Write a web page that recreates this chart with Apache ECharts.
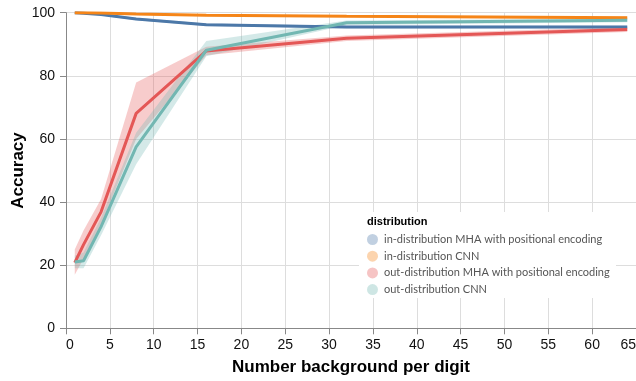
<!DOCTYPE html>
<html><head><meta charset="utf-8">
<script src="https://cdn.jsdelivr.net/npm/echarts@6/dist/echarts.min.js"></script>
<style>html,body{margin:0;padding:0;background:#fff}#c{width:636px;height:381px}</style>
</head><body><div id="c"></div>
<script>
var xs = [1, 2, 4, 8, 16, 32, 64];
var seriesNames = ['in-distribution MHA with positional encoding','in-distribution CNN','out-distribution MHA with positional encoding','out-distribution CNN'];
var inMHA = [100, 99.8, 99.4, 98.0, 96.2, 95.5, 95.5];
var inMHALo = [99.8, 99.6, 99.1, 97.6, 95.8, 95.1, 95.1];
var inMHAHi = [100, 100, 99.7, 98.4, 96.6, 95.9, 95.9];
var inCNN = [100, 100, 99.9, 99.6, 99.2, 98.9, 98.4];
var inCNNLo = [99.8, 99.8, 99.7, 99.3, 98.9, 98.6, 98.0];
var inCNNHi = [100, 100, 100, 99.9, 99.5, 99.2, 98.8];
var outMHA = [20.8, 26.5, 36.9, 68.1, 87.9, 91.9, 94.7];
var outMHALo = [17, 22, 33, 60, 86.5, 91.0, 93.9];
var outMHAHi = [25, 31, 41, 77.9, 89.2, 92.8, 95.5];
var outCNN = [21.0, 21.4, 32.2, 57.5, 88.1, 96.8, 97.6];
var outCNNLo = [19, 19, 29.5, 52, 86.2, 96.1, 97.0];
var outCNNHi = [23, 24, 35, 62, 91, 97.5, 98.2];
var colors = ['#4c78a8', '#f58518', '#e45756', '#72b7b2'];

function pairs(v){ return xs.map(function(x,i){ return [x, v[i]]; }); }
function band(lo, hi, color){
  return {
    type: 'custom', silent: true, z: 1,
    data: [0],
    renderItem: function(params, api){
      var pts = [];
      for (var i=0;i<xs.length;i++) pts.push(api.coord([xs[i], hi[i]]));
      for (var j=xs.length-1;j>=0;j--) pts.push(api.coord([xs[j], lo[j]]));
      return { type:'polygon', shape:{points:pts}, style:{fill:color, opacity:0.3} };
    }
  };
}
function line(name, v, color){
  return { name:name, type:'line', data:pairs(v), symbol:'none', z:3,
    lineStyle:{color:color, width:3}, itemStyle:{color:color} };
}
var chart = echarts.init(document.getElementById('c'));
var font = '"Liberation Sans", Arial, sans-serif';
chart.setOption({
  animation:false,
  grid:{left:66, right:0, top:12.7, bottom:52.7, containLabel:false, outerBoundsMode:'none'},
  xAxis:{type:'value', min:0, max:65, interval:5,
    name:'Number background per digit', nameLocation:'middle', nameGap:31, nameMoveOverlap:false,
    nameTextStyle:{fontFamily:font, fontWeight:'bold', fontSize:17, color:'#000'},
    axisLine:{lineStyle:{color:'#888', width:1}}, axisTick:{show:true, length:6, lineStyle:{color:'#888'}},
    axisLabel:{fontFamily:font, fontSize:14, color:'#111', margin:10, alignMinLabel:'left', alignMaxLabel:'right'},
    splitLine:{show:true, lineStyle:{color:'#ddd', width:1}}},
  yAxis:{type:'value', min:0, max:100, interval:20,
    name:'Accuracy', nameLocation:'middle', nameGap:39, nameRotate:90, nameMoveOverlap:false,
    nameTextStyle:{fontFamily:font, fontWeight:'bold', fontSize:17, color:'#000'},
    axisLine:{show:true, lineStyle:{color:'#888', width:1}}, axisTick:{show:true, length:6, lineStyle:{color:'#888'}},
    axisLabel:{fontFamily:font, fontSize:14, color:'#111', margin:11},
    splitLine:{show:true, lineStyle:{color:'#ddd', width:1}}},
  legend:{orient:'vertical', left:367, top:234, padding:0, itemGap:5.7, itemWidth:11, itemHeight:11, icon:'circle', z:5,
    textStyle:{fontFamily:'Lato, sans-serif', fontSize:11, color:'#555', padding:[0,0,0,1]},
    data: seriesNames.map(function(n,i){ return {name:n, itemStyle:{color:colors[i], opacity:0.35}}; })},
  graphic:[
    {type:'rect', shape:{x:359, y:212, width:257, height:86}, style:{fill:'#fff'}, z:1, zlevel:0},
    {type:'text', left:367, top:216, z:6, style:{text:'distribution', fontFamily:font, fontWeight:'bold', fontSize:11, fill:'#000'}}
  ],
  series:[
    band(inMHALo, inMHAHi, colors[0]),
    band(inCNNLo, inCNNHi, colors[1]),
    band(outMHALo, outMHAHi, colors[2]),
    band(outCNNLo, outCNNHi, colors[3]),
    line(seriesNames[0], inMHA, colors[0]),
    line(seriesNames[1], inCNN, colors[1]),
    line(seriesNames[2], outMHA, colors[2]),
    line(seriesNames[3], outCNN, colors[3])
  ]
});
</script></body></html>
